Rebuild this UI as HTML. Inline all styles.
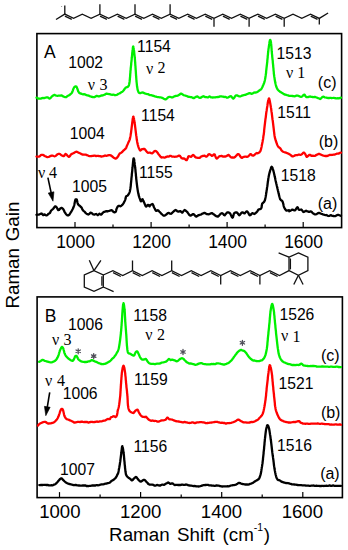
<!DOCTYPE html>
<html><head><meta charset="utf-8"><style>
html,body{margin:0;padding:0;background:#fff;width:348px;height:550px;overflow:hidden;font-family:"Liberation Sans",sans-serif}
svg text{white-space:pre}
</style></head><body>
<svg width="348" height="550" viewBox="0 0 348 550" style="position:absolute;left:0;top:0">
<polyline points="56.0,19.5 64.8,14.1 73.6,18.4 82.3,14.1 91.1,18.4 99.9,14.1 108.7,18.4 117.4,14.1 126.2,18.4 135.0,14.1 143.8,18.4 152.5,14.1 161.3,18.4 170.1,14.1 178.9,18.4 187.7,14.1 196.4,18.4 205.2,14.1 214.0,18.4 222.8,14.1 231.5,18.4 240.3,14.1 249.1,18.4 257.9,14.1 266.6,18.4 275.4,14.1 284.2,18.4 293.0,14.1 301.8,18.4 310.5,14.1 319.3,18.4 328.1,13.0" fill="none" stroke="#111" stroke-width="1.3" stroke-linejoin="miter"/>
<line x1="64.9" y1="16.1" x2="71.8" y2="19.4" stroke="#111" stroke-width="1.3"/>
<line x1="100.0" y1="16.1" x2="106.9" y2="19.4" stroke="#111" stroke-width="1.3"/>
<line x1="117.6" y1="16.1" x2="124.4" y2="19.4" stroke="#111" stroke-width="1.3"/>
<line x1="135.1" y1="16.1" x2="142.0" y2="19.4" stroke="#111" stroke-width="1.3"/>
<line x1="152.7" y1="16.1" x2="159.5" y2="19.4" stroke="#111" stroke-width="1.3"/>
<line x1="170.2" y1="16.1" x2="177.1" y2="19.4" stroke="#111" stroke-width="1.3"/>
<line x1="187.8" y1="16.1" x2="194.6" y2="19.4" stroke="#111" stroke-width="1.3"/>
<line x1="205.3" y1="16.1" x2="212.2" y2="19.4" stroke="#111" stroke-width="1.3"/>
<line x1="222.9" y1="16.1" x2="229.7" y2="19.4" stroke="#111" stroke-width="1.3"/>
<line x1="240.4" y1="16.1" x2="247.3" y2="19.4" stroke="#111" stroke-width="1.3"/>
<line x1="258.0" y1="16.1" x2="264.8" y2="19.4" stroke="#111" stroke-width="1.3"/>
<line x1="275.6" y1="16.1" x2="282.4" y2="19.4" stroke="#111" stroke-width="1.3"/>
<line x1="310.7" y1="16.1" x2="317.5" y2="19.4" stroke="#111" stroke-width="1.3"/>
<line x1="64.8" y1="14.1" x2="64.8" y2="5.4" stroke="#111" stroke-width="1.3"/>
<line x1="99.9" y1="14.1" x2="99.9" y2="4.2" stroke="#111" stroke-width="1.3"/>
<line x1="135.0" y1="14.1" x2="135.0" y2="4.2" stroke="#111" stroke-width="1.3"/>
<line x1="170.1" y1="14.1" x2="170.1" y2="4.2" stroke="#111" stroke-width="1.3"/>
<circle cx="61.6" cy="6.5" r="0.6" fill="#888"/>
<line x1="214.0" y1="18.4" x2="214.0" y2="26.7" stroke="#111" stroke-width="1.3"/>
<line x1="249.1" y1="18.4" x2="249.1" y2="26.7" stroke="#111" stroke-width="1.3"/>
<line x1="284.2" y1="18.4" x2="284.2" y2="26.7" stroke="#111" stroke-width="1.3"/>
<line x1="319.3" y1="18.4" x2="319.3" y2="24.5" stroke="#111" stroke-width="1.3"/>
<polygon points="94.0,270.7 84.3,275.0 84.3,287.0 94.0,291.3 103.3,287.0 103.3,275.0" fill="none" stroke="#111" stroke-width="1.3"/>
<line x1="94" y1="270.7" x2="89.3" y2="260.3" stroke="#111" stroke-width="1.3"/>
<line x1="94" y1="270.7" x2="100.9" y2="260.3" stroke="#111" stroke-width="1.3"/>
<line x1="103.3" y1="287" x2="113.6" y2="291.6" stroke="#111" stroke-width="1.3"/>
<line x1="101.9" y1="276.3" x2="101.9" y2="285.7" stroke="#111" stroke-width="1.3"/>
<polyline points="103.3,275.0 112.9,270.7 122.7,275.5 132.5,270.7 142.3,275.5 152.1,270.7 161.9,275.5 171.7,270.7 181.5,275.5 191.3,270.7 201.1,275.5 210.9,270.7 220.7,275.5 230.5,270.7 240.3,275.5 250.1,270.7 259.9,275.5 269.7,270.7 279.5,275.5 289.0,270.7" fill="none" stroke="#111" stroke-width="1.3"/>
<line x1="113.1" y1="272.7" x2="120.8" y2="276.5" stroke="#111" stroke-width="1.3"/>
<line x1="132.7" y1="272.7" x2="140.4" y2="276.5" stroke="#111" stroke-width="1.3"/>
<line x1="152.3" y1="272.7" x2="160.0" y2="276.5" stroke="#111" stroke-width="1.3"/>
<line x1="171.9" y1="272.7" x2="179.6" y2="276.5" stroke="#111" stroke-width="1.3"/>
<line x1="191.5" y1="272.7" x2="199.2" y2="276.5" stroke="#111" stroke-width="1.3"/>
<line x1="211.1" y1="272.7" x2="218.8" y2="276.5" stroke="#111" stroke-width="1.3"/>
<line x1="230.7" y1="272.7" x2="238.4" y2="276.5" stroke="#111" stroke-width="1.3"/>
<line x1="250.3" y1="272.7" x2="258.0" y2="276.5" stroke="#111" stroke-width="1.3"/>
<line x1="269.9" y1="272.7" x2="277.6" y2="276.5" stroke="#111" stroke-width="1.3"/>
<line x1="132.5" y1="270.7" x2="132.5" y2="260.5" stroke="#111" stroke-width="1.3"/>
<line x1="171.7" y1="270.7" x2="171.7" y2="260.5" stroke="#111" stroke-width="1.3"/>
<line x1="220.7" y1="275.5" x2="220.7" y2="284.5" stroke="#111" stroke-width="1.3"/>
<line x1="259.9" y1="275.5" x2="259.9" y2="284.5" stroke="#111" stroke-width="1.3"/>
<polygon points="298.4,252.9 307.9,257.2 307.9,270.7 298.4,275.3 289.0,270.7 289.0,257.2" fill="none" stroke="#111" stroke-width="1.3"/>
<line x1="290.4" y1="258.5" x2="290.4" y2="269.4" stroke="#111" stroke-width="1.3"/>
<line x1="289" y1="257.2" x2="278.6" y2="252.9" stroke="#111" stroke-width="1.3"/>
<line x1="298.4" y1="275.3" x2="293.8" y2="284.5" stroke="#111" stroke-width="1.3"/>
<line x1="298.4" y1="275.3" x2="303.1" y2="284.5" stroke="#111" stroke-width="1.3"/>
<rect x="36.9" y="33.6" width="304.70" height="194.00" fill="none" stroke="#000" stroke-width="1.6"/>
<line x1="75.0" y1="227.6" x2="75.0" y2="222.1" stroke="#000" stroke-width="1.2"/>
<line x1="151.1" y1="227.6" x2="151.1" y2="222.1" stroke="#000" stroke-width="1.2"/>
<line x1="227.1" y1="227.6" x2="227.1" y2="222.1" stroke="#000" stroke-width="1.2"/>
<line x1="303.2" y1="227.6" x2="303.2" y2="222.1" stroke="#000" stroke-width="1.2"/>
<line x1="113.0" y1="227.6" x2="113.0" y2="224.6" stroke="#000" stroke-width="1.2"/>
<line x1="189.1" y1="227.6" x2="189.1" y2="224.6" stroke="#000" stroke-width="1.2"/>
<line x1="265.1" y1="227.6" x2="265.1" y2="224.6" stroke="#000" stroke-width="1.2"/>
<rect x="37.1" y="296.9" width="305.30" height="200.70" fill="none" stroke="#000" stroke-width="1.6"/>
<line x1="59.5" y1="497.6" x2="59.5" y2="492.1" stroke="#000" stroke-width="1.2"/>
<line x1="140.6" y1="497.6" x2="140.6" y2="492.1" stroke="#000" stroke-width="1.2"/>
<line x1="221.7" y1="497.6" x2="221.7" y2="492.1" stroke="#000" stroke-width="1.2"/>
<line x1="302.8" y1="497.6" x2="302.8" y2="492.1" stroke="#000" stroke-width="1.2"/>
<line x1="100.1" y1="497.6" x2="100.1" y2="494.6" stroke="#000" stroke-width="1.2"/>
<line x1="181.2" y1="497.6" x2="181.2" y2="494.6" stroke="#000" stroke-width="1.2"/>
<line x1="262.2" y1="497.6" x2="262.2" y2="494.6" stroke="#000" stroke-width="1.2"/>
<polyline points="36.5,97.7 37.2,97.8 38.1,98.5 39.2,98.6 40.3,98.6 41.2,98.6 42.1,98.1 43.0,98.0 43.8,98.1 44.6,98.0 45.7,97.7 46.6,97.3 47.5,97.3 48.2,97.7 48.9,98.3 49.6,98.6 50.3,98.2 51.0,97.5 51.8,96.5 52.5,95.9 53.5,95.3 54.5,94.9 55.4,95.3 56.5,95.6 57.6,95.8 58.5,95.7 59.4,95.7 60.4,95.7 61.4,95.4 62.3,95.8 63.3,96.5 64.3,96.8 65.2,97.2 66.2,97.2 66.9,96.5 67.6,96.1 68.3,95.5 69.0,95.3 69.8,94.8 70.5,94.2 71.3,93.5 71.9,92.8 72.3,92.0 72.6,91.1 72.9,90.3 73.1,89.6 73.4,88.8 73.8,88.0 74.1,87.3 75.3,86.3 76.5,86.7 76.9,87.5 77.2,88.5 77.6,89.4 77.9,90.3 78.2,91.3 78.8,92.2 79.4,93.0 80.3,93.5 81.2,93.6 82.0,94.0 82.7,94.3 84.0,94.2 84.7,94.4 85.6,94.7 86.5,95.1 87.4,95.4 88.3,95.5 89.2,95.8 90.0,96.3 90.9,96.5 91.8,96.9 92.7,97.0 93.5,97.2 94.3,97.2 95.1,96.7 95.9,96.2 96.6,95.9 97.7,96.2 98.9,96.5 99.8,96.2 100.8,95.7 101.8,95.5 102.8,95.3 103.7,95.0 104.7,94.7 105.7,94.1 106.6,93.6 107.6,93.8 108.5,94.0 109.4,94.1 110.4,94.4 111.2,94.7 112.1,94.8 113.0,94.6 113.9,94.7 114.8,95.2 115.6,95.1 116.5,94.9 117.3,94.7 118.3,93.8 119.3,93.5 120.2,93.1 120.9,92.6 121.7,92.1 122.4,91.7 123.1,91.0 123.7,90.3 124.3,89.5 124.8,88.7 125.4,88.0 125.8,87.5 127.0,87.1 127.9,86.8 128.8,85.6 129.0,85.0 129.1,84.3 129.3,83.6 129.4,82.7 129.6,81.7 129.7,80.7 129.8,79.6 129.9,78.9 129.9,78.2 130.0,77.5 130.1,76.8 130.1,76.0 130.2,75.2 130.2,74.4 130.3,73.5 130.4,72.7 130.4,71.8 130.5,70.9 130.6,70.0 130.7,69.3 130.7,68.5 130.8,67.7 130.9,66.9 131.0,66.0 131.1,65.2 131.2,64.3 131.2,63.5 131.3,62.6 131.4,61.8 131.5,61.0 131.6,60.2 131.7,59.4 131.7,58.7 131.8,58.0 131.9,57.0 132.0,56.1 132.1,55.2 132.2,54.3 132.2,53.5 132.3,52.7 132.4,51.9 132.5,51.2 132.5,50.6 132.6,50.0 132.8,48.6 132.9,47.5 133.0,46.8 133.2,46.5 133.4,46.8 133.5,47.5 133.7,48.6 133.9,50.0 134.0,50.6 134.1,51.2 134.2,51.9 134.2,52.7 134.3,53.5 134.4,54.3 134.5,55.2 134.6,56.1 134.7,57.0 134.8,58.0 134.9,58.7 134.9,59.4 135.0,60.1 135.0,60.9 135.1,61.7 135.2,62.5 135.2,63.3 135.3,64.2 135.3,65.0 135.4,65.9 135.5,66.7 135.5,67.5 135.6,68.4 135.6,69.2 135.7,70.0 135.8,70.8 135.8,71.6 135.9,72.5 135.9,73.3 136.0,74.1 136.0,75.0 136.1,75.8 136.2,76.6 136.2,77.5 136.3,78.3 136.3,79.1 136.4,79.8 136.5,80.6 136.5,81.3 136.6,82.0 136.7,83.0 136.8,84.0 136.9,85.0 137.0,85.9 137.1,86.8 137.3,87.6 137.4,88.4 137.5,89.2 137.7,89.8 137.8,90.4 138.3,91.7 138.8,92.6 139.6,93.0 140.4,93.1 141.4,92.7 142.3,92.5 143.2,92.6 144.0,93.0 144.8,93.5 145.6,93.7 146.4,93.9 147.3,94.1 148.3,94.2 149.2,94.8 150.2,95.1 151.2,95.2 152.1,95.5 152.8,95.6 153.4,95.9 154.0,96.0 154.9,96.4 155.9,96.6 156.9,96.9 157.8,97.1 158.7,97.2 159.6,97.4 160.4,97.3 161.3,97.5 162.1,97.8 163.0,98.2 163.8,98.7 164.7,99.1 165.5,99.4 166.2,99.1 166.9,98.6 167.6,97.8 168.3,97.3 169.0,96.9 169.9,96.8 170.7,97.0 171.5,97.3 172.4,97.4 173.3,96.9 174.2,96.5 175.1,96.1 175.9,95.8 176.8,95.9 177.6,95.7 178.4,95.3 179.3,94.8 180.1,94.1 181.0,93.6 181.8,93.9 182.7,94.5 183.6,95.1 184.4,95.3 185.3,95.5 186.2,95.9 187.1,96.1 188.0,96.7 188.8,96.9 189.6,96.9 190.5,97.1 191.4,97.2 192.2,97.5 193.1,98.0 194.0,98.1 194.9,97.4 195.8,96.9 196.6,96.6 197.4,96.4 198.3,97.1 199.1,97.7 200.0,97.9 200.8,97.7 201.8,97.1 202.7,96.6 203.4,96.2 204.2,96.6 205.0,97.1 205.7,97.2 206.5,97.1 207.4,97.3 208.4,97.3 209.2,96.5 210.1,96.6 211.0,97.3 211.9,97.4 212.8,97.5 213.7,97.4 214.5,97.4 215.4,97.4 216.2,97.2 217.1,97.1 218.0,97.0 218.9,96.9 219.7,96.5 220.6,96.4 221.4,96.4 222.3,96.6 223.2,96.7 224.0,97.0 224.8,96.9 225.7,96.9 226.6,97.6 227.5,97.6 228.3,97.3 229.2,96.9 230.1,96.3 230.9,96.2 231.5,96.7 232.2,97.6 232.8,98.4 233.4,98.6 233.9,98.2 234.4,97.5 234.9,96.7 235.4,95.9 236.0,95.4 236.8,95.4 237.7,95.7 238.6,96.1 239.5,96.4 240.4,96.3 241.2,96.0 242.0,95.6 242.9,95.3 243.8,95.1 244.7,94.9 245.6,94.8 246.4,94.4 247.3,94.0 248.2,93.6 249.0,93.2 249.9,93.2 250.7,93.5 251.6,93.9 252.4,93.5 253.3,93.1 254.1,92.6 255.0,92.5 255.8,92.5 256.7,92.3 257.6,91.8 258.5,91.1 259.3,90.5 260.2,89.8 261.0,89.4 261.4,88.8 261.9,88.0 262.4,87.0 262.8,86.0 263.2,85.2 263.5,84.4 263.9,83.6 264.2,82.7 264.5,81.7 264.7,81.0 264.8,80.4 265.0,79.7 265.1,79.0 265.3,78.1 265.4,77.2 265.6,76.0 265.7,75.4 265.8,74.7 265.9,74.0 266.0,73.3 266.1,72.5 266.1,71.7 266.2,70.8 266.3,70.0 266.4,69.1 266.5,68.2 266.6,67.4 266.7,66.5 266.8,65.6 266.9,64.8 267.0,64.0 267.1,63.2 267.2,62.4 267.3,61.5 267.3,60.7 267.4,59.9 267.5,59.0 267.6,58.2 267.7,57.4 267.7,56.5 267.8,55.7 267.9,54.9 268.0,54.2 268.0,53.4 268.1,52.7 268.2,52.0 268.3,51.0 268.4,50.0 268.5,49.0 268.7,48.1 268.8,47.2 268.9,46.4 269.0,45.6 269.1,44.8 269.2,44.1 269.3,43.5 269.5,42.1 269.8,40.9 270.0,40.1 270.2,39.9 270.4,40.2 270.7,40.9 270.9,42.1 271.1,43.5 271.2,44.1 271.2,44.8 271.3,45.6 271.4,46.4 271.4,47.2 271.5,48.1 271.6,49.0 271.6,50.0 271.7,51.0 271.8,52.0 271.9,52.7 271.9,53.4 272.0,54.2 272.1,54.9 272.2,55.7 272.2,56.5 272.3,57.4 272.4,58.2 272.5,59.0 272.6,59.9 272.7,60.7 272.8,61.5 272.8,62.4 272.9,63.2 273.0,64.0 273.1,64.8 273.2,65.6 273.2,66.4 273.3,67.3 273.4,68.1 273.5,68.9 273.5,69.7 273.6,70.6 273.7,71.4 273.8,72.2 273.8,73.0 273.9,73.8 274.0,74.5 274.1,75.3 274.2,76.0 274.3,76.9 274.5,77.8 274.6,78.7 274.7,79.6 274.9,80.4 275.0,81.3 275.2,82.1 275.3,82.8 275.5,83.6 275.7,84.3 275.8,85.0 276.0,85.6 276.3,86.7 276.7,87.6 277.0,88.4 277.4,89.0 277.8,89.7 278.4,90.3 279.0,90.8 279.7,91.4 280.5,91.9 281.3,92.5 282.2,93.0 282.9,93.4 283.6,94.0 284.6,94.5 285.5,94.6 286.3,94.9 287.1,95.1 288.0,95.3 288.9,95.8 289.8,95.9 290.7,95.8 291.6,95.9 292.5,96.0 293.4,96.1 294.3,96.3 295.2,96.2 296.1,95.7 296.9,95.5 297.8,95.7 298.7,96.0 299.6,96.4 300.6,96.8 301.4,96.8 302.1,96.4 302.8,95.8 303.5,95.0 304.1,94.6 304.7,94.9 305.3,96.0 306.0,96.7 306.7,97.2 307.5,97.1 308.4,97.0 309.4,96.6 310.3,96.5 311.2,96.8 312.1,96.8 312.9,97.1 313.8,97.2 314.7,96.9 315.6,97.2 316.6,97.5 317.4,97.8 318.4,98.2 319.2,98.5 320.1,99.0 320.8,98.6 321.4,98.0 322.1,97.2 322.8,96.8 323.6,96.7 324.5,97.3 325.4,97.5 326.3,97.7 327.2,97.9 328.1,98.0 329.0,98.1 329.9,97.9 330.8,97.8 331.6,98.2 332.5,98.0 333.4,97.8 334.3,98.0 335.2,98.1 336.1,98.4 337.0,98.3 337.8,98.2 338.8,98.4 339.7,98.2 340.4,97.8 341.0,97.7" fill="none" stroke="#00f000" stroke-width="2.3" stroke-linejoin="round" stroke-linecap="round"/>
<polyline points="36.5,156.6 37.5,156.6 38.9,156.6 39.8,156.2 40.7,155.2 41.7,154.9 42.7,154.9 43.6,155.2 44.6,156.0 45.6,156.4 46.5,156.8 47.5,157.1 48.5,156.9 49.5,156.6 50.4,156.1 51.5,155.6 52.5,155.6 53.6,156.0 54.7,156.3 55.4,155.9 56.2,155.4 56.9,154.8 57.6,154.3 58.7,153.8 59.7,153.8 60.4,154.4 61.2,155.0 61.9,155.5 63.0,156.0 64.0,156.1 64.5,155.5 65.0,154.5 65.5,153.9 66.2,154.2 66.9,155.0 67.5,155.7 68.3,156.5 69.0,156.9 69.7,156.4 70.4,155.3 71.2,154.3 71.9,153.9 72.7,153.5 73.4,153.2 74.1,152.9 75.2,152.1 76.2,151.7 76.9,151.8 77.7,152.2 78.4,152.6 79.4,153.0 80.5,153.5 81.4,154.1 82.4,154.5 83.4,154.7 84.2,154.7 85.2,154.7 86.1,154.7 86.9,155.2 87.9,155.5 88.7,155.8 89.7,156.1 90.5,156.2 91.4,156.2 92.3,155.9 93.2,155.9 94.1,155.7 94.9,155.7 95.7,156.0 96.6,156.0 97.5,155.8 98.3,155.8 99.2,156.1 100.1,156.1 101.0,156.5 101.8,156.5 102.6,156.3 103.5,156.2 104.4,155.7 105.3,155.5 106.2,155.8 107.0,155.6 108.0,155.3 109.0,155.1 109.9,155.1 110.6,155.3 111.3,155.8 112.0,156.3 112.7,156.8 113.4,157.4 114.2,157.9 114.9,158.4 115.6,158.6 116.5,158.2 117.3,157.4 118.0,156.5 118.5,155.6 118.9,154.8 119.4,154.0 119.8,153.4 120.7,153.0 121.6,152.5 122.2,151.9 122.8,151.2 123.4,150.6 124.2,150.1 125.1,149.1 125.8,148.4 126.2,147.9 126.4,147.2 126.7,146.4 127.0,145.6 127.4,144.8 127.8,143.9 128.2,142.9 128.6,142.0 129.0,141.2 129.3,140.5 129.7,139.6 130.0,138.4 130.1,137.8 130.3,137.0 130.4,136.3 130.6,135.4 130.7,134.6 130.8,133.7 131.0,132.9 131.1,132.0 131.2,131.2 131.3,130.4 131.4,129.6 131.5,128.8 131.6,128.0 131.7,127.2 131.8,126.4 131.9,125.6 132.0,124.8 132.1,124.0 132.2,123.1 132.3,122.1 132.5,121.0 132.6,119.9 132.7,118.9 132.9,118.0 133.0,117.3 133.2,116.8 133.3,116.6 133.5,116.8 133.6,117.2 133.8,117.9 134.0,118.8 134.1,119.7 134.3,120.8 134.5,121.9 134.6,123.0 134.8,124.0 134.9,124.7 135.0,125.5 135.1,126.3 135.2,127.1 135.3,127.9 135.4,128.7 135.5,129.6 135.6,130.4 135.7,131.2 135.8,132.0 135.9,132.8 136.0,133.6 136.1,134.5 136.2,135.4 136.4,136.3 136.5,137.2 136.6,138.1 136.7,139.0 136.8,139.8 137.0,140.6 137.1,141.3 137.2,142.0 137.4,143.0 137.6,143.9 137.8,144.7 138.0,145.4 138.2,146.1 138.4,146.8 138.7,147.7 139.1,148.6 139.5,149.4 139.8,150.1 140.2,150.6 141.1,150.0 142.0,149.1 142.8,149.1 143.6,148.8 144.4,148.9 145.0,149.4 145.6,150.2 146.2,151.0 146.8,151.7 147.4,152.4 148.0,152.8 149.0,152.7 150.0,152.7 151.1,153.1 152.2,153.3 152.9,152.8 153.6,152.1 154.3,151.3 155.0,150.9 155.8,151.1 156.5,151.5 157.2,152.3 157.7,152.9 158.2,153.7 158.8,154.5 159.3,155.1 160.0,156.1 160.7,156.9 161.5,157.5 162.4,157.3 163.4,157.3 164.4,157.7 165.3,157.5 166.3,156.8 167.2,156.5 168.2,156.7 169.1,156.4 170.1,155.9 171.0,155.9 172.0,156.6 173.0,156.7 173.9,156.7 174.8,156.8 175.7,156.7 176.6,156.7 177.6,156.3 178.6,155.7 179.5,155.6 180.1,156.0 180.5,156.7 181.0,157.5 181.6,158.1 182.5,158.5 183.6,158.4 184.5,158.7 185.3,159.3 185.9,160.1 186.6,160.1 187.0,159.9 187.3,159.1 187.7,158.2 188.1,157.3 188.4,156.5 188.8,156.2 189.9,156.5 191.0,156.8 191.7,156.3 192.3,155.6 193.1,154.9 193.7,155.3 194.4,156.0 195.2,157.1 196.0,157.6 196.8,157.7 197.7,157.8 198.6,157.9 199.4,157.8 200.0,157.7 200.8,156.7 201.6,156.3 202.5,156.0 203.5,155.8 204.4,155.6 205.4,156.2 206.3,156.7 207.0,156.3 207.7,155.5 208.3,154.6 209.0,154.2 209.9,154.4 210.9,155.0 211.8,155.8 212.8,155.6 213.7,154.5 214.6,154.4 215.0,155.1 215.3,156.1 215.7,157.1 216.0,157.9 216.4,158.4 217.0,158.6 217.6,157.9 218.3,157.3 219.1,156.4 220.0,156.2 220.9,156.0 221.9,156.0 222.8,156.5 223.8,156.6 224.7,156.5 225.6,156.5 226.5,156.2 227.4,155.5 228.3,154.8 229.0,155.2 229.7,156.0 230.4,156.9 231.1,157.4 232.0,157.5 233.0,157.5 233.9,157.6 234.6,157.3 235.3,156.8 236.0,155.9 236.6,155.4 237.3,154.6 237.8,154.1 238.5,154.1 239.0,154.5 239.5,155.0 240.0,156.0 240.6,156.8 241.2,157.6 242.1,157.8 243.0,157.1 244.0,156.8 244.9,156.7 245.9,156.6 246.9,156.9 247.8,156.7 248.6,156.0 249.3,155.4 249.8,154.6 250.4,154.1 251.3,154.4 252.2,155.4 253.2,155.7 253.9,155.3 254.5,154.8 255.2,154.2 255.9,153.5 256.9,153.0 257.8,153.3 258.7,152.8 259.6,152.2 260.5,150.9 260.6,150.5 260.8,149.9 261.0,149.3 261.1,148.6 261.3,147.9 261.5,147.1 261.7,146.2 261.8,145.3 262.0,144.4 262.2,143.5 262.4,142.6 262.6,141.7 262.7,140.7 262.9,139.8 263.1,138.9 263.2,138.0 263.3,137.2 263.4,136.4 263.5,135.6 263.7,134.8 263.8,134.0 263.9,133.1 264.0,132.3 264.1,131.5 264.1,130.6 264.2,129.8 264.3,128.9 264.4,128.1 264.5,127.2 264.6,126.4 264.7,125.5 264.8,124.7 264.9,123.8 265.0,123.0 265.1,122.2 265.2,121.3 265.3,120.4 265.4,119.6 265.5,118.7 265.7,117.8 265.8,116.9 265.9,116.0 266.0,115.1 266.1,114.3 266.2,113.4 266.3,112.6 266.4,111.8 266.6,111.0 266.7,110.2 266.8,109.4 266.9,108.7 267.0,108.0 267.2,106.9 267.4,105.7 267.5,104.6 267.7,103.5 267.9,102.5 268.0,101.5 268.2,100.6 268.4,99.9 268.6,99.3 268.7,98.9 268.9,98.5 269.1,98.5 269.3,99.0 269.5,99.7 269.7,100.6 269.9,101.5 270.1,102.6 270.3,103.8 270.5,104.9 270.7,106.0 270.8,106.7 270.9,107.5 271.1,108.2 271.2,109.1 271.3,109.9 271.4,110.8 271.5,111.7 271.7,112.6 271.8,113.4 271.9,114.3 272.0,115.2 272.1,116.0 272.2,116.8 272.3,117.6 272.4,118.5 272.5,119.4 272.7,120.3 272.8,121.2 272.9,122.0 273.0,122.9 273.1,123.7 273.2,124.5 273.3,125.3 273.4,126.2 273.5,127.0 273.6,127.8 273.7,128.7 273.8,129.6 273.9,130.4 274.0,131.3 274.1,132.1 274.2,133.0 274.3,133.8 274.4,134.6 274.5,135.3 274.6,136.0 274.8,137.0 275.0,138.0 275.2,138.9 275.5,139.7 275.7,140.5 276.0,141.3 276.2,142.0 276.6,143.0 276.9,144.0 277.3,144.9 277.7,145.7 278.1,146.4 278.7,147.2 279.4,147.6 280.0,148.1 280.6,148.8 281.1,149.8 281.7,150.6 282.4,151.2 283.2,151.7 283.9,152.0 284.9,152.3 286.0,152.7 286.8,153.0 287.7,153.4 288.6,153.7 289.4,154.2 290.1,154.6 290.8,155.3 291.5,155.8 292.2,156.3 292.9,156.4 294.0,156.0 295.1,155.3 296.1,155.1 297.2,155.2 298.3,154.7 299.4,154.6 300.5,154.9 301.6,154.5 302.3,153.9 303.0,153.0 303.7,152.6 304.3,152.9 304.9,153.6 305.4,154.3 305.8,155.2 306.3,156.3 306.7,156.9 307.5,156.5 308.4,155.6 309.2,155.0 310.3,154.8 311.1,155.6 311.9,155.9 312.9,155.7 313.8,155.8 314.7,155.9 315.6,155.4 316.6,154.9 317.4,154.5 318.4,154.0 319.2,153.9 320.1,154.3 321.0,154.7 321.8,155.0 322.8,155.5 323.6,155.7 324.5,155.9 325.4,156.0 326.3,156.0 327.2,156.0 328.1,155.6 329.0,155.2 329.9,154.8 330.8,155.0 331.6,154.9 332.5,154.8 333.4,154.6 334.3,154.7 335.2,154.3 336.1,154.0 337.0,153.7 337.8,153.6 338.8,153.5 339.7,152.8 340.4,152.7 341.0,152.6" fill="none" stroke="#ff0000" stroke-width="2.3" stroke-linejoin="round" stroke-linecap="round"/>
<polyline points="36.5,214.8 37.3,214.6 38.5,214.6 39.6,214.3 40.8,213.7 41.7,213.5 42.5,214.4 43.2,215.1 44.6,214.4 45.3,214.8 46.1,215.4 46.8,215.4 47.5,214.9 48.2,214.1 49.6,213.3 50.0,212.9 50.4,212.1 50.7,211.3 51.1,210.6 51.8,210.0 52.5,209.4 53.2,208.7 54.0,207.7 54.7,206.8 55.4,206.3 56.1,206.7 56.8,207.7 57.3,208.5 57.8,209.6 58.3,210.2 59.0,210.0 59.7,209.0 60.4,208.5 61.2,208.0 61.9,208.0 62.6,208.4 63.3,209.3 63.6,209.8 64.0,210.6 64.3,211.4 64.7,212.1 65.2,212.9 65.7,213.7 66.2,214.4 66.9,215.0 67.6,215.4 68.3,215.4 68.8,215.1 69.4,214.6 70.0,213.7 70.5,212.8 70.9,212.2 71.4,211.5 71.8,210.8 72.2,210.0 72.6,209.3 73.0,208.4 73.4,207.6 73.7,206.7 74.1,205.6 74.3,204.8 74.5,203.8 74.7,202.8 74.9,201.8 75.1,200.8 75.3,200.0 75.5,199.4 76.7,199.5 76.9,200.0 77.1,200.8 77.3,201.8 77.5,202.7 77.7,203.5 78.1,204.4 78.6,204.9 79.1,205.4 79.8,205.8 80.6,206.7 81.3,207.2 81.7,207.8 82.0,208.5 82.3,209.3 82.7,210.0 83.4,210.8 84.2,211.4 84.9,212.0 85.7,213.1 86.5,213.7 87.4,214.1 88.3,214.5 89.2,214.0 90.1,213.1 90.9,212.6 91.8,213.2 92.6,213.9 93.4,214.5 94.3,214.7 95.2,214.2 96.1,214.0 97.0,214.6 97.8,215.2 98.7,214.3 99.5,213.7 100.3,214.3 101.2,214.6 101.8,214.1 102.4,213.2 103.0,212.6 103.9,211.9 104.7,211.8 105.6,211.4 106.4,211.2 107.2,211.5 108.1,211.2 109.0,211.0 109.9,210.7 110.8,210.3 111.6,210.1 112.4,210.7 113.3,211.8 114.5,212.4 115.6,212.0 115.9,211.5 116.1,210.7 116.3,209.7 116.6,208.8 117.0,207.9 117.4,207.1 117.9,206.3 118.4,205.9 119.3,205.8 120.2,206.3 121.1,206.0 122.0,205.2 122.6,204.5 123.2,203.7 123.8,202.8 124.2,201.9 124.7,201.0 125.1,200.1 125.4,199.2 125.7,198.1 125.9,197.0 126.2,196.2 127.4,195.7 128.0,195.1 128.6,194.3 129.2,193.2 129.4,192.6 129.7,191.9 129.9,191.2 130.0,190.4 130.2,189.4 130.4,188.4 130.5,187.7 130.6,187.0 130.7,186.3 130.8,185.5 130.8,184.7 130.9,183.8 131.0,182.9 131.1,182.0 131.2,181.0 131.3,180.0 131.4,179.3 131.4,178.6 131.5,177.8 131.6,177.0 131.7,176.2 131.8,175.4 131.8,174.5 131.9,173.7 132.0,172.8 132.1,172.0 132.2,171.1 132.3,170.3 132.3,169.5 132.4,168.7 132.5,168.0 132.6,167.0 132.7,166.0 132.8,164.9 132.9,163.8 133.0,162.8 133.1,161.7 133.2,160.8 133.3,159.9 133.4,159.2 133.5,158.7 133.6,158.3 133.7,158.3 133.8,158.4 133.9,158.7 134.1,159.2 134.2,159.9 134.3,160.8 134.4,161.7 134.6,162.8 134.7,163.8 134.8,164.9 135.0,166.0 135.1,167.0 135.2,168.0 135.3,168.7 135.4,169.5 135.5,170.3 135.5,171.1 135.6,171.9 135.7,172.8 135.8,173.6 135.9,174.4 135.9,175.3 136.0,176.1 136.1,176.9 136.2,177.7 136.2,178.5 136.3,179.3 136.4,180.0 136.5,180.9 136.6,181.8 136.7,182.7 136.8,183.5 136.9,184.4 137.0,185.2 137.1,186.0 137.2,186.8 137.3,187.5 137.4,188.2 137.5,188.9 137.6,189.6 137.8,190.7 137.9,191.6 138.1,192.5 138.3,193.4 138.5,194.2 138.6,194.9 138.8,195.6 139.1,196.7 139.4,197.6 139.7,198.4 140.0,199.2 140.4,200.3 140.8,201.2 141.2,201.4 141.6,200.9 142.0,199.7 142.4,199.1 142.7,199.4 143.1,200.3 143.5,201.1 143.8,202.0 144.2,202.8 144.6,203.6 144.9,204.5 145.3,205.4 145.6,206.1 146.0,206.6 146.6,206.3 147.2,205.3 147.8,204.8 148.4,205.1 149.1,205.9 149.6,206.4 150.2,205.0 150.9,204.7 151.7,204.3 152.5,204.0 152.9,204.5 153.3,205.4 153.6,206.3 154.0,207.2 154.4,208.0 154.9,208.9 155.3,209.8 155.8,210.5 156.2,210.9 156.9,210.7 157.7,210.2 158.4,210.6 159.2,211.5 160.0,212.3 160.7,213.0 161.5,213.9 162.2,214.5 163.3,215.5 164.4,215.7 165.2,215.3 165.9,214.7 166.7,214.2 167.8,213.2 168.9,212.9 170.1,213.7 171.2,213.8 171.9,213.1 172.7,212.3 173.4,211.7 174.2,210.9 174.9,210.3 175.7,210.0 176.4,210.4 177.2,211.2 177.9,211.6 179.0,211.5 180.1,211.1 180.9,211.6 181.6,212.3 182.4,212.6 183.1,211.6 183.9,210.6 184.6,210.0 185.4,210.5 186.1,211.0 186.9,211.8 187.5,212.2 188.0,213.1 188.6,213.9 189.1,214.8 190.2,215.5 191.3,215.3 192.1,214.8 192.8,214.1 193.6,214.2 194.3,214.7 195.1,215.7 195.8,216.4 196.5,216.6 197.3,216.1 198.1,215.4 198.8,215.1 199.7,214.8 200.5,214.7 201.4,214.4 202.3,213.7 203.1,213.4 204.0,213.0 204.9,212.9 205.8,213.5 206.6,214.0 207.4,214.1 208.3,214.3 209.2,214.2 210.1,213.7 211.0,213.3 211.8,213.1 212.7,213.6 213.6,214.3 214.4,214.8 215.3,215.5 216.1,216.1 217.0,216.4 217.9,216.7 218.7,215.9 219.6,214.9 220.2,214.3 220.8,213.6 221.5,213.4 222.1,213.2 222.7,213.5 223.4,214.2 224.0,214.9 224.7,215.3 225.3,214.5 226.0,213.7 226.7,212.9 227.3,212.4 228.2,212.3 229.0,212.6 229.9,213.2 230.3,213.8 230.8,214.8 231.3,215.7 231.7,216.7 232.1,217.4 232.5,217.7 232.9,217.3 233.2,216.3 233.5,215.1 233.8,214.0 234.2,213.2 235.0,212.6 235.9,212.4 236.8,212.5 237.5,213.0 238.1,214.0 238.8,214.8 239.4,215.3 240.1,214.6 240.7,213.8 241.3,212.9 242.0,212.4 242.9,212.5 243.7,213.1 244.6,213.4 245.4,212.5 246.3,211.7 247.1,211.4 247.6,211.8 248.1,212.7 248.7,213.7 249.2,214.7 249.7,215.3 250.6,215.0 251.5,213.8 252.3,213.2 253.4,213.6 254.5,214.0 255.3,213.3 256.0,212.8 256.7,212.1 257.3,211.4 257.9,210.4 258.4,209.6 259.2,209.3 260.0,209.2 260.8,208.8 261.4,207.8 261.6,207.3 261.7,206.3 261.9,205.3 262.0,204.3 262.2,203.6 263.3,202.6 263.8,202.2 264.3,201.6 264.9,200.3 265.0,199.7 265.2,199.1 265.3,198.4 265.5,197.6 265.7,196.7 265.8,195.8 266.0,195.0 266.1,194.1 266.2,193.2 266.4,192.4 266.5,191.6 266.6,190.7 266.8,189.8 266.9,189.0 267.0,188.1 267.1,187.3 267.3,186.5 267.4,185.7 267.5,184.8 267.6,184.0 267.7,183.2 267.8,182.3 267.9,181.4 268.1,180.6 268.2,179.7 268.3,178.9 268.4,178.0 268.6,177.2 268.7,176.4 268.9,175.5 269.1,174.6 269.3,173.7 269.5,172.8 269.8,172.0 270.0,171.2 270.2,170.4 270.4,169.8 270.8,168.7 271.1,167.7 271.4,167.0 271.7,166.8 272.0,167.1 272.4,167.7 272.7,168.7 273.1,169.8 273.3,170.4 273.5,171.2 273.7,172.0 273.9,172.8 274.1,173.7 274.3,174.6 274.5,175.5 274.7,176.4 274.9,177.2 275.1,178.0 275.3,178.9 275.4,179.7 275.6,180.6 275.8,181.4 276.0,182.3 276.2,183.2 276.4,184.0 276.6,184.8 276.8,185.7 277.0,186.5 277.2,187.4 277.4,188.2 277.6,189.1 277.8,189.9 278.0,190.8 278.2,191.6 278.4,192.5 278.6,193.4 278.9,194.4 279.1,195.4 279.3,196.3 279.6,197.2 279.8,198.0 280.0,198.7 280.2,199.3 281.1,200.3 281.8,200.6 282.4,201.3 282.9,202.5 283.1,203.2 283.3,204.1 283.5,205.1 283.7,206.1 284.0,206.9 284.5,208.0 285.0,209.0 285.6,209.8 286.4,210.6 287.3,210.5 288.2,210.3 289.0,210.2 289.2,211.3 289.8,211.0 290.7,210.6 291.6,210.1 292.4,209.6 293.3,209.8 294.1,210.4 294.9,210.4 295.4,210.0 295.9,209.2 296.4,208.3 296.9,207.6 297.3,207.2 297.9,207.7 298.3,208.9 298.9,209.7 299.6,209.9 300.5,209.7 301.3,209.5 301.9,210.1 302.5,210.9 303.1,211.7 303.7,212.0 304.5,211.7 305.3,211.1 306.1,210.7 306.9,211.1 307.7,211.4 308.5,211.8 309.3,211.9 310.2,211.5 311.0,211.5 311.6,211.8 312.2,212.5 312.8,213.1 313.4,213.6 314.2,214.1 315.0,214.3 315.8,214.3 316.6,214.2 317.4,213.5 318.2,213.1 319.0,212.8 319.8,213.2 320.6,213.5 321.4,213.8 322.1,214.0 323.0,214.5 323.8,214.7 324.7,215.0 325.5,215.2 326.3,215.0 327.2,215.4 327.9,215.8 328.7,216.0 329.5,215.8 330.2,215.4 331.1,215.2 331.8,215.7 332.6,215.9 333.5,216.0 334.3,216.1 335.1,216.2 335.9,215.8 336.7,215.4 337.5,214.8 338.4,214.9 339.4,215.3 340.4,215.7 341.0,215.9" fill="none" stroke="#000" stroke-width="2.3" stroke-linejoin="round" stroke-linecap="round"/>
<polyline points="39.2,361.8 39.8,361.4 40.7,360.9 41.7,360.3 42.5,359.9 43.6,360.2 44.6,360.8 45.5,361.0 46.5,361.3 47.5,361.6 48.5,361.9 49.4,362.2 50.4,362.3 51.3,362.4 52.3,362.1 53.2,361.7 53.9,361.4 54.7,361.0 55.4,360.5 56.1,359.9 56.6,359.2 57.0,358.4 57.5,357.6 57.9,356.7 58.3,355.8 58.6,355.1 58.8,354.2 59.1,353.3 59.3,352.5 59.6,351.6 59.8,350.8 60.1,350.1 60.6,349.0 61.0,348.1 61.5,347.3 61.9,346.9 62.6,347.2 63.3,348.6 63.5,349.3 63.7,350.1 64.0,351.0 64.2,351.9 64.4,352.8 64.7,353.6 65.1,354.4 65.5,355.2 65.9,355.9 66.4,356.5 66.9,357.1 67.6,357.8 68.3,358.6 69.1,359.1 69.8,359.6 70.8,360.2 71.8,360.7 72.6,360.9 73.2,360.5 73.7,359.6 74.1,358.7 74.5,358.0 74.8,357.1 75.2,356.3 75.5,355.9 76.7,356.0 77.1,356.7 77.4,357.6 77.9,358.6 78.4,359.4 79.0,359.9 79.8,360.5 80.6,361.0 81.3,361.4 82.2,361.7 83.2,361.8 84.1,362.0 85.1,362.0 86.1,362.0 87.1,361.9 88.0,361.4 88.9,361.3 89.7,361.3 90.5,360.9 91.2,360.4 91.8,360.1 93.3,360.6 93.9,360.9 94.6,361.3 95.4,361.7 96.2,361.9 97.1,362.3 98.0,362.8 98.8,363.2 99.6,363.4 100.5,363.6 101.5,364.1 102.5,364.1 103.6,364.0 104.4,363.9 105.2,363.8 106.0,363.4 106.8,363.1 107.6,362.6 108.5,362.0 109.3,361.7 110.0,361.1 110.7,360.5 111.2,359.9 111.8,359.2 112.4,358.7 113.0,358.2 113.6,357.6 114.2,356.9 114.7,356.2 115.2,355.5 115.7,354.8 116.2,354.0 116.6,353.2 117.0,352.5 117.4,351.9 117.8,351.2 118.1,350.5 118.4,349.6 118.6,348.9 118.8,348.2 119.0,347.4 119.1,346.5 119.3,345.6 119.4,344.7 119.6,343.6 119.7,342.9 119.8,342.2 119.9,341.5 120.0,340.8 120.1,340.0 120.2,339.2 120.3,338.4 120.4,337.5 120.5,336.7 120.6,335.8 120.7,334.9 120.8,334.0 120.9,333.3 120.9,332.5 121.0,331.8 121.1,331.0 121.2,330.2 121.2,329.4 121.3,328.6 121.4,327.7 121.4,326.9 121.5,326.1 121.6,325.3 121.6,324.4 121.7,323.6 121.7,322.8 121.8,322.0 121.9,321.2 121.9,320.4 122.0,319.5 122.0,318.7 122.1,317.8 122.1,316.9 122.2,316.1 122.2,315.2 122.3,314.4 122.3,313.6 122.4,312.8 122.4,312.1 122.5,311.3 122.5,310.6 122.6,310.0 122.7,308.8 122.8,307.6 122.9,306.5 123.0,305.5 123.1,304.6 123.3,303.9 123.4,303.5 123.5,303.2 123.6,303.4 123.8,303.9 123.9,304.6 124.1,305.5 124.2,306.5 124.3,307.6 124.5,308.8 124.6,310.0 124.7,310.6 124.7,311.3 124.8,312.1 124.8,312.8 124.9,313.6 124.9,314.4 124.9,315.2 125.0,316.1 125.0,316.9 125.1,317.8 125.1,318.7 125.2,319.5 125.2,320.4 125.2,321.2 125.3,322.0 125.4,322.8 125.4,323.6 125.5,324.4 125.5,325.2 125.6,326.0 125.7,326.8 125.7,327.6 125.8,328.4 125.8,329.2 125.9,330.0 126.0,330.8 126.0,331.6 126.1,332.4 126.1,333.2 126.2,334.0 126.3,334.8 126.3,335.6 126.4,336.5 126.4,337.3 126.5,338.2 126.5,339.1 126.6,339.9 126.6,340.8 126.7,341.6 126.7,342.4 126.8,343.2 126.8,343.9 126.9,344.7 126.9,345.4 127.0,346.0 127.1,347.1 127.2,348.2 127.3,349.1 127.4,350.0 127.6,350.8 127.7,351.5 127.8,352.1 128.0,352.6 128.8,353.4 129.8,353.6 130.6,354.0 131.4,354.5 132.2,355.1 133.1,355.6 134.0,355.5 134.4,355.1 134.7,354.3 135.1,353.4 135.5,352.6 135.8,352.0 136.6,351.3 137.3,351.4 137.7,351.9 138.0,352.6 138.4,353.5 138.8,354.4 139.1,355.1 139.5,355.9 139.8,356.7 140.2,357.4 140.6,358.0 141.4,359.0 142.2,359.6 143.0,359.7 144.1,359.5 145.0,359.2 145.9,358.9 146.3,359.5 146.9,360.3 147.4,361.3 148.0,362.0 148.7,362.8 149.5,363.4 150.4,363.6 151.1,363.8 151.9,363.9 152.8,363.9 153.7,363.9 154.5,364.1 155.2,364.1 156.1,363.8 156.9,363.7 157.7,363.7 158.5,363.6 159.3,363.6 160.2,363.4 161.0,362.9 161.7,362.7 162.6,362.5 163.4,362.3 164.2,362.2 164.9,362.0 165.8,361.7 166.6,361.2 167.3,360.6 168.2,359.6 169.0,358.9 169.8,359.4 170.6,360.1 171.3,359.9 172.2,359.6 172.9,359.8 173.8,360.1 174.6,360.4 175.4,360.7 176.2,361.1 177.0,361.3 177.8,360.9 178.6,360.3 179.4,359.5 180.2,358.9 181.1,358.5 181.8,358.2 182.7,358.3 183.5,359.0 184.1,359.5 184.7,360.2 185.3,360.8 185.9,361.4 186.6,362.1 187.4,362.5 188.3,363.0 189.0,363.4 189.8,363.6 190.6,363.4 191.5,363.6 192.3,363.9 193.1,364.1 193.9,364.2 194.7,364.7 195.5,364.8 196.3,364.6 197.2,364.4 198.2,363.9 199.1,363.5 200.0,363.4 200.8,363.2 201.8,363.2 202.6,363.6 203.5,364.0 204.4,364.2 205.3,364.2 206.3,364.3 207.2,364.4 208.1,364.4 209.0,364.4 210.0,364.4 210.9,364.1 211.8,364.0 212.8,364.1 213.7,363.9 214.6,364.1 215.6,364.0 216.4,363.5 217.3,363.4 218.2,363.3 219.1,363.5 220.1,363.7 220.9,363.9 221.8,364.1 222.8,364.3 223.7,364.6 224.6,364.5 225.6,364.1 226.5,363.8 227.4,363.4 228.2,363.1 228.9,362.7 229.5,362.1 230.2,361.6 230.7,361.0 231.3,360.6 231.8,359.9 232.4,359.2 232.9,358.4 233.5,357.7 234.0,356.9 234.6,356.1 235.1,355.4 235.7,354.6 236.3,353.9 236.8,353.1 237.4,352.4 237.9,351.8 238.5,351.3 239.4,350.6 240.3,350.2 241.2,349.9 242.1,350.3 243.1,350.6 244.0,350.9 244.8,351.5 245.5,352.2 246.2,353.1 246.7,353.7 247.1,354.4 247.6,355.1 248.1,355.9 248.6,356.6 249.3,357.4 249.9,358.0 250.6,358.7 251.3,359.2 252.3,360.1 253.2,360.5 254.1,360.4 255.0,360.7 256.0,361.0 257.0,361.1 258.1,361.2 259.2,361.1 260.0,360.8 260.8,360.5 261.6,360.4 262.4,359.9 263.0,359.4 263.5,358.8 264.0,358.2 264.4,357.4 264.9,356.5 265.1,355.9 265.4,355.2 265.6,354.5 265.8,353.7 266.0,352.9 266.2,352.0 266.4,351.0 266.6,350.0 266.8,348.9 266.9,348.2 267.0,347.5 267.1,346.7 267.2,345.9 267.3,345.0 267.4,344.2 267.4,343.3 267.5,342.4 267.6,341.5 267.7,340.6 267.8,339.7 267.8,338.8 267.9,337.9 268.0,337.1 268.1,336.2 268.2,335.4 268.3,334.5 268.4,333.7 268.4,332.8 268.5,332.0 268.6,331.1 268.7,330.3 268.8,329.4 268.9,328.6 269.0,327.7 269.1,326.9 269.1,326.0 269.2,325.2 269.3,324.3 269.4,323.5 269.5,322.7 269.6,321.9 269.6,321.0 269.7,320.2 269.8,319.3 269.8,318.4 269.9,317.6 270.0,316.7 270.1,315.9 270.1,315.1 270.2,314.3 270.3,313.5 270.4,312.7 270.4,312.0 270.5,311.3 270.6,310.7 270.8,309.5 271.0,308.3 271.2,307.2 271.4,306.1 271.6,305.3 271.8,304.6 272.0,304.1 272.2,303.9 272.4,304.1 272.6,304.6 272.8,305.3 273.0,306.1 273.2,307.2 273.4,308.3 273.6,309.5 273.8,310.7 273.9,311.3 274.0,312.0 274.1,312.7 274.1,313.5 274.2,314.3 274.3,315.1 274.4,315.9 274.5,316.7 274.5,317.6 274.6,318.4 274.7,319.3 274.8,320.2 274.9,321.0 274.9,321.9 275.0,322.7 275.1,323.5 275.2,324.3 275.3,325.2 275.4,326.0 275.4,326.9 275.5,327.7 275.6,328.6 275.7,329.4 275.8,330.3 275.9,331.1 276.0,332.0 276.0,332.8 276.1,333.7 276.2,334.5 276.3,335.4 276.4,336.2 276.5,337.1 276.6,337.9 276.7,338.8 276.8,339.7 276.9,340.6 277.0,341.5 277.1,342.4 277.2,343.3 277.3,344.2 277.4,345.0 277.5,345.9 277.6,346.7 277.7,347.5 277.8,348.2 277.9,348.9 278.1,350.0 278.2,351.0 278.4,351.9 278.5,352.8 278.7,353.6 278.9,354.4 279.1,355.1 279.3,355.8 279.5,356.5 279.9,357.5 280.3,358.3 280.7,359.1 281.2,359.8 281.6,360.4 282.1,360.9 282.8,361.6 283.5,362.0 284.3,362.4 285.3,362.8 286.0,363.1 286.9,363.4 287.8,363.9 288.7,364.2 289.6,364.2 290.4,364.4 291.0,364.6 292.4,365.1 293.1,365.0 293.9,364.9 294.8,365.1 295.7,365.0 296.8,364.8 297.9,364.9 298.9,365.0 299.8,364.6 300.5,363.9 301.3,363.7 302.1,364.0 302.8,364.9 303.7,365.4 304.4,365.7 305.1,365.7 306.0,365.8 306.9,365.9 307.6,366.0 308.4,366.1 309.1,366.1 310.0,366.1 310.9,366.0 311.8,366.1 312.5,365.9 313.3,366.0 314.0,366.0 314.8,366.1 315.6,366.2 316.4,366.5 317.3,366.6 318.2,366.6 318.9,366.6 319.7,366.6 320.5,366.7 321.3,366.7 322.1,366.4 323.0,366.5 323.8,366.6 324.7,366.6 325.5,366.7 326.3,366.7 327.1,366.7 327.9,366.7 328.7,366.8 329.6,366.8 330.4,366.7 331.2,366.7 332.0,366.7 332.8,366.8 333.6,366.8 334.3,366.8 335.2,366.8 336.2,366.6 337.2,366.7 338.2,367.0 339.0,367.0 339.8,367.1 340.5,367.1 341.0,367.1" fill="none" stroke="#00f000" stroke-width="2.3" stroke-linejoin="round" stroke-linecap="round"/>
<polyline points="38.0,425.5 38.7,424.6 39.6,423.8 40.6,423.3 41.7,422.8 42.6,422.4 43.5,422.0 44.3,421.8 45.3,421.9 46.3,422.4 47.1,423.0 48.0,423.5 48.9,423.5 49.8,423.4 50.8,423.3 51.8,423.0 52.5,422.9 53.3,422.6 54.0,422.2 54.7,421.7 55.5,421.0 56.1,420.3 56.8,419.5 57.2,418.9 57.6,418.2 58.0,417.4 58.4,416.6 58.7,415.8 59.0,415.0 59.3,414.1 59.6,413.1 59.8,412.3 60.1,411.5 60.6,410.3 61.1,409.3 61.6,408.8 62.3,408.8 63.0,410.1 63.2,410.7 63.4,411.5 63.6,412.4 63.8,413.3 64.0,414.2 64.2,415.1 64.4,415.8 64.8,416.8 65.2,417.5 65.7,418.2 66.2,418.7 67.1,419.3 68.0,419.5 69.0,419.9 70.0,420.4 71.0,420.8 71.9,421.2 72.6,421.6 73.3,422.0 74.1,422.5 74.9,422.5 75.8,422.4 76.7,422.2 77.7,421.8 78.6,421.8 79.5,422.0 80.4,422.0 81.3,421.6 82.0,421.6 83.0,421.9 84.0,422.1 84.7,421.9 85.5,422.0 86.4,422.0 87.2,422.0 88.1,422.5 88.9,422.5 89.8,422.1 90.6,422.0 91.5,421.9 92.3,421.9 93.1,422.2 93.9,422.1 94.8,422.0 95.6,421.9 96.4,421.6 97.2,421.5 98.0,421.8 98.9,421.7 99.7,421.4 100.5,421.3 101.4,421.3 102.2,421.1 103.1,420.8 103.9,420.6 104.7,420.7 105.6,420.3 106.4,419.7 107.1,419.3 107.8,419.0 109.0,419.1 110.0,419.0 110.4,418.1 110.9,417.3 111.6,417.0 112.4,416.8 113.3,416.3 114.0,416.2 114.9,416.7 115.5,417.1 116.2,416.6 116.9,415.3 117.1,414.7 117.2,413.9 117.4,413.0 117.5,412.1 117.6,411.2 117.8,410.4 118.0,409.6 118.2,409.0 118.4,408.3 118.6,407.6 118.8,406.7 119.0,405.6 119.1,405.0 119.2,404.3 119.3,403.6 119.4,402.8 119.5,402.1 119.6,401.3 119.7,400.4 119.8,399.6 119.9,398.7 120.0,397.8 120.1,396.9 120.2,396.0 120.3,395.3 120.3,394.5 120.4,393.8 120.4,393.0 120.5,392.2 120.5,391.4 120.6,390.6 120.6,389.7 120.7,388.9 120.7,388.1 120.8,387.3 120.8,386.4 120.9,385.6 120.9,384.8 121.0,384.0 121.1,383.2 121.1,382.4 121.2,381.5 121.2,380.6 121.3,379.8 121.4,378.9 121.4,378.1 121.5,377.2 121.6,376.4 121.6,375.6 121.7,374.8 121.8,374.0 121.8,373.3 121.9,372.6 122.0,372.0 122.2,370.7 122.4,369.4 122.6,368.3 122.8,367.3 123.1,366.5 123.3,366.0 123.5,365.7 123.7,365.9 123.9,366.5 124.2,367.3 124.4,368.3 124.6,369.4 124.8,370.7 125.0,372.0 125.1,372.6 125.2,373.3 125.3,374.0 125.3,374.8 125.4,375.6 125.5,376.4 125.6,377.2 125.7,378.1 125.7,378.9 125.8,379.8 125.9,380.6 126.0,381.5 126.0,382.4 126.1,383.2 126.2,384.0 126.3,384.8 126.4,385.6 126.4,386.4 126.5,387.3 126.6,388.1 126.7,388.9 126.8,389.7 126.9,390.6 127.0,391.4 127.0,392.2 127.1,393.0 127.2,393.8 127.3,394.5 127.3,395.3 127.4,396.0 127.5,396.9 127.5,397.8 127.6,398.7 127.6,399.6 127.7,400.4 127.7,401.2 127.7,402.1 127.8,402.8 127.8,403.6 127.9,404.3 127.9,405.0 128.0,405.6 128.2,406.7 128.3,407.7 128.5,408.5 128.7,409.2 129.0,409.8 129.2,410.4 129.7,411.2 130.3,411.7 131.0,412.1 131.8,412.5 132.6,412.8 133.4,413.0 134.0,412.5 134.6,411.8 135.2,410.9 135.8,410.4 136.8,409.8 137.6,409.7 138.0,410.3 138.4,411.2 138.8,412.2 139.2,412.9 139.6,413.7 140.1,414.5 140.6,415.2 141.4,416.0 142.2,416.6 143.0,416.8 144.1,416.9 145.0,417.2 145.9,416.6 146.3,417.0 146.8,417.5 147.4,418.2 148.0,418.9 148.7,419.6 149.5,420.0 150.3,420.5 151.2,420.8 152.0,420.5 152.8,420.6 153.7,420.9 154.5,421.0 155.3,420.8 156.2,421.0 157.0,421.4 157.7,421.7 158.5,421.7 159.3,421.3 160.1,421.0 160.9,420.7 161.7,420.4 162.5,420.3 163.3,420.3 164.2,420.2 164.9,420.0 165.6,419.7 166.2,418.9 166.8,418.2 167.3,417.6 168.2,418.1 169.0,419.1 169.7,419.3 170.6,419.3 171.4,419.5 172.2,419.7 173.0,420.0 173.8,420.3 174.6,420.6 175.3,421.0 176.2,421.1 176.9,421.3 177.8,421.4 178.6,421.5 179.4,421.6 180.2,421.8 181.0,422.0 181.8,422.1 182.6,422.3 183.4,422.4 184.2,422.0 185.1,422.0 185.9,422.3 186.7,422.4 187.5,422.7 188.3,422.8 189.1,422.9 189.9,423.0 190.7,422.8 191.5,422.7 192.3,422.3 193.1,422.3 193.9,422.9 194.7,423.0 195.5,423.0 196.3,422.6 197.1,422.4 198.0,422.4 198.8,422.3 199.8,422.2 200.7,422.1 201.7,422.2 202.6,422.3 203.6,422.3 204.5,422.6 205.4,423.1 206.3,423.2 207.2,423.0 208.1,423.0 209.0,422.8 209.9,422.7 210.8,422.6 211.8,422.5 212.7,422.3 213.6,422.2 214.5,422.0 215.5,421.9 216.4,421.8 217.3,421.9 218.3,422.3 219.2,422.4 220.1,422.7 221.0,422.9 221.9,422.7 222.8,422.9 223.7,423.0 224.6,423.0 225.5,423.5 226.5,423.5 227.4,423.2 228.3,423.2 229.2,423.1 230.2,423.0 231.1,422.8 232.0,422.5 232.9,422.3 233.9,421.9 234.8,421.5 235.6,421.1 236.3,420.7 237.1,420.1 237.8,419.7 238.5,419.6 239.2,419.8 239.8,420.3 240.5,420.9 241.2,421.2 242.1,421.6 243.0,422.2 244.0,422.5 244.9,422.3 245.8,422.4 246.8,422.6 247.7,422.6 248.6,422.7 249.5,422.6 250.5,422.1 251.4,422.0 252.3,422.1 253.3,421.8 254.1,421.6 255.0,421.2 255.9,420.7 256.7,420.4 257.8,419.7 258.3,419.3 258.8,418.7 259.4,418.0 260.1,417.3 260.7,416.7 261.2,416.1 261.8,415.4 262.2,414.7 262.6,414.0 262.9,413.3 263.1,412.6 263.3,411.9 263.5,411.1 263.7,410.3 263.9,409.4 264.1,408.4 264.2,407.7 264.4,407.0 264.5,406.2 264.7,405.4 264.8,404.6 264.9,403.7 265.1,402.8 265.2,401.9 265.3,401.0 265.5,400.1 265.6,399.1 265.7,398.2 265.8,397.4 265.9,396.6 266.0,395.8 266.1,395.0 266.1,394.2 266.2,393.3 266.3,392.4 266.4,391.6 266.5,390.7 266.6,389.8 266.6,389.0 266.7,388.1 266.8,387.2 266.9,386.4 267.0,385.5 267.1,384.7 267.2,383.9 267.3,383.0 267.4,382.2 267.5,381.3 267.6,380.5 267.7,379.6 267.8,378.8 267.8,378.0 267.9,377.1 268.0,376.3 268.1,375.5 268.2,374.8 268.3,374.1 268.4,373.4 268.5,372.7 268.6,371.5 268.8,370.4 268.9,369.2 269.1,368.1 269.2,367.1 269.3,366.2 269.5,365.6 269.6,365.2 269.8,365.2 270.0,365.3 270.2,365.6 270.4,366.2 270.6,367.1 270.9,368.1 271.1,369.2 271.3,370.4 271.5,371.5 271.7,372.7 271.8,373.4 271.9,374.1 272.0,374.8 272.1,375.5 272.2,376.3 272.2,377.1 272.3,378.0 272.4,378.8 272.5,379.6 272.5,380.5 272.6,381.3 272.7,382.2 272.8,383.0 272.8,383.9 272.9,384.7 273.0,385.5 273.1,386.4 273.2,387.2 273.3,388.1 273.3,389.0 273.4,389.8 273.5,390.7 273.6,391.6 273.7,392.4 273.8,393.3 273.9,394.2 274.0,395.0 274.0,395.8 274.1,396.6 274.2,397.4 274.3,398.2 274.4,399.1 274.5,400.1 274.6,401.0 274.7,401.9 274.8,402.8 274.9,403.7 274.9,404.6 275.0,405.4 275.1,406.2 275.3,407.0 275.4,407.7 275.5,408.4 275.7,409.4 275.9,410.3 276.2,411.1 276.4,411.9 276.7,412.6 276.9,413.3 277.2,414.0 277.5,414.7 277.9,415.6 278.3,416.4 278.7,417.2 279.1,418.0 279.5,418.6 280.0,419.2 280.7,419.9 281.5,420.3 282.3,420.6 283.2,421.1 283.9,421.4 284.8,421.7 285.6,421.8 286.3,422.1 287.0,422.2 288.1,422.5 289.2,422.4 289.9,422.6 290.7,422.5 291.6,422.3 292.4,422.2 293.2,422.0 294.1,422.1 294.9,422.0 295.7,422.0 296.5,421.7 297.4,421.5 298.2,421.1 298.9,421.1 299.7,421.6 300.4,422.4 301.3,422.9 302.0,423.1 302.7,423.5 303.4,423.6 304.3,423.7 305.3,423.8 306.0,423.6 306.8,423.6 307.6,423.6 308.4,423.8 309.3,423.8 310.1,423.8 311.0,423.7 311.8,423.7 312.7,423.7 313.6,423.7 314.5,423.7 315.3,423.7 316.3,423.7 317.2,423.5 318.2,423.5 318.9,423.7 319.7,423.8 320.5,423.8 321.3,423.7 322.1,423.7 323.0,423.9 323.8,423.9 324.7,424.1 325.5,424.2 326.3,424.2 327.1,424.2 327.9,424.1 328.7,424.2 329.6,424.5 330.4,424.6 331.2,424.5 332.0,424.6 332.8,424.6 333.6,424.6 334.3,424.6 335.2,424.4 336.2,424.4 337.2,424.7 338.2,424.7 339.0,424.5 339.8,424.5 340.5,424.5 341.0,424.7" fill="none" stroke="#ff0000" stroke-width="2.3" stroke-linejoin="round" stroke-linecap="round"/>
<polyline points="39.3,485.1 40.0,485.1 40.9,485.0 41.9,485.0 42.9,485.0 43.8,484.8 44.6,484.9 45.4,484.9 46.3,485.0 47.2,484.9 48.0,485.0 48.9,485.4 49.8,485.4 50.7,485.3 51.6,485.2 52.4,485.3 53.2,485.1 54.1,484.6 54.9,484.3 55.6,483.9 56.2,483.4 56.8,482.7 57.5,482.0 58.3,481.0 59.0,480.2 59.6,479.5 60.2,479.0 60.7,478.5 61.9,478.5 62.5,479.2 63.3,480.2 64.0,480.8 64.7,481.5 65.5,482.2 66.4,482.7 67.3,483.2 68.3,483.7 69.1,484.0 70.0,484.1 70.9,484.3 71.9,484.7 72.7,484.8 73.6,485.1 74.4,485.1 75.3,484.9 76.2,485.0 77.1,485.3 78.0,485.4 78.8,485.5 79.7,485.5 80.5,485.7 81.4,485.7 82.3,485.5 83.1,485.5 84.0,485.4 84.8,485.5 85.6,485.5 86.4,486.0 87.3,486.0 88.1,486.1 88.9,486.0 89.8,485.8 90.6,485.8 91.5,485.6 92.3,485.5 93.1,485.5 93.9,485.4 94.8,485.5 95.6,485.5 96.4,485.2 97.2,485.1 98.0,485.3 98.9,485.2 99.7,484.9 100.5,484.7 101.4,484.4 102.2,484.3 103.1,484.4 103.9,484.2 104.7,483.9 105.6,483.7 106.4,483.6 107.1,483.3 107.8,483.1 109.0,482.8 110.0,482.5 110.9,481.4 111.5,481.0 112.4,480.4 113.2,479.9 114.0,479.4 114.8,478.7 115.5,478.0 116.1,477.2 116.5,476.5 117.0,475.6 117.3,474.7 117.6,474.1 118.0,473.7 118.1,473.1 118.3,472.4 118.5,471.6 118.7,470.7 118.8,469.8 119.0,468.8 119.2,467.9 119.3,467.1 119.5,466.3 119.6,465.4 119.8,464.6 119.9,463.7 120.0,462.8 120.2,461.9 120.3,461.0 120.4,460.2 120.5,459.4 120.6,458.6 120.7,457.8 120.8,457.0 120.9,456.2 121.0,455.3 121.1,454.5 121.2,453.8 121.3,453.0 121.4,452.0 121.5,450.9 121.7,449.8 121.8,448.7 121.9,447.8 122.0,447.0 122.2,446.5 122.3,446.2 122.5,446.5 122.6,447.0 122.8,447.8 123.0,448.7 123.1,449.8 123.3,450.9 123.5,452.0 123.6,453.0 123.7,453.7 123.8,454.5 123.9,455.3 124.0,456.1 124.0,456.9 124.1,457.7 124.2,458.6 124.2,459.4 124.3,460.2 124.4,461.0 124.5,461.8 124.6,462.6 124.6,463.5 124.7,464.3 124.8,465.1 124.9,466.0 125.0,466.8 125.0,467.5 125.1,468.3 125.2,469.0 125.3,470.0 125.4,470.9 125.5,471.8 125.7,472.7 125.8,473.5 125.9,474.2 126.1,474.8 126.6,475.8 127.2,476.5 127.8,477.1 128.5,477.7 129.4,478.3 130.1,478.7 131.0,479.6 131.8,480.4 132.7,479.9 133.6,478.8 134.4,478.1 135.2,477.4 135.9,476.9 136.5,477.3 137.1,478.0 137.6,478.8 138.2,479.5 138.7,480.2 139.3,480.7 140.1,481.4 141.0,481.6 141.9,481.0 142.8,480.3 143.7,479.9 144.5,479.8 145.0,480.3 145.6,480.9 146.2,481.6 146.8,482.2 147.4,482.8 148.0,483.6 148.5,484.1 149.4,484.6 150.0,484.7 150.6,484.6 151.3,484.7 152.3,484.6 153.2,484.8 154.3,485.5 155.3,485.7 156.4,485.2 157.5,485.0 158.6,485.4 159.6,485.5 160.3,485.5 161.1,485.0 161.8,484.7 162.8,484.7 163.9,484.9 164.6,484.5 165.4,484.0 166.1,483.6 166.8,483.2 167.6,482.7 168.3,482.5 169.0,482.9 169.7,483.5 170.4,483.9 171.5,483.5 172.6,483.3 173.3,484.0 174.0,484.6 174.7,485.0 175.8,484.8 176.9,484.8 177.7,485.0 178.5,484.9 179.4,485.0 180.2,485.0 181.0,484.9 181.8,484.6 182.6,484.6 183.4,484.8 184.2,484.8 185.0,484.8 185.8,484.5 186.6,484.6 187.4,484.8 188.2,485.3 189.0,485.4 189.8,485.5 190.6,485.6 191.4,485.7 192.3,485.8 193.1,486.0 193.8,486.1 194.7,486.0 195.5,486.1 196.3,486.4 197.1,486.4 197.9,486.4 198.8,486.5 199.5,486.3 200.3,486.2 201.1,486.0 201.9,485.6 202.7,485.3 203.6,485.2 204.4,485.1 205.3,484.9 206.2,485.0 207.1,484.8 208.0,484.9 208.9,485.3 209.8,485.4 210.7,485.4 211.6,485.5 212.5,485.7 213.4,485.7 214.3,485.9 215.1,485.8 216.0,485.5 216.9,485.5 217.8,485.6 218.7,485.7 219.6,486.0 220.5,486.1 221.4,486.4 222.3,486.5 223.2,486.4 224.1,486.4 225.0,486.3 225.8,486.3 226.8,486.3 227.7,486.2 228.5,486.3 229.4,486.2 230.3,485.7 231.2,485.5 232.1,485.3 233.0,485.1 233.9,485.1 234.8,484.9 235.7,484.6 236.5,484.3 237.5,483.7 238.3,483.1 239.2,482.8 240.1,483.0 240.9,483.5 241.9,483.9 242.7,484.0 243.6,484.2 244.5,484.4 245.4,484.5 246.3,484.5 247.2,484.5 248.1,484.6 249.0,484.4 249.9,483.9 250.9,483.6 251.8,483.3 252.6,482.9 253.5,482.4 254.3,481.8 255.2,481.2 255.9,480.8 256.6,480.5 257.4,479.9 258.1,479.5 258.7,479.0 259.2,478.4 259.5,477.7 259.8,477.0 260.1,476.1 260.4,475.2 260.6,474.5 260.8,473.6 261.0,472.8 261.1,471.9 261.3,470.9 261.4,470.0 261.6,469.0 261.7,468.2 261.8,467.5 262.0,466.7 262.1,465.9 262.2,465.1 262.3,464.3 262.5,463.4 262.6,462.4 262.7,461.4 262.8,460.7 262.9,460.0 263.0,459.2 263.0,458.4 263.1,457.6 263.2,456.8 263.3,455.9 263.4,455.1 263.5,454.2 263.6,453.4 263.6,452.5 263.7,451.7 263.8,450.8 263.9,450.0 264.0,449.2 264.1,448.3 264.1,447.5 264.2,446.6 264.3,445.8 264.4,444.9 264.5,444.0 264.5,443.2 264.6,442.4 264.7,441.5 264.8,440.7 264.8,439.9 264.9,439.1 265.0,438.4 265.1,437.5 265.2,436.6 265.3,435.7 265.4,434.8 265.5,433.9 265.6,433.1 265.7,432.3 265.8,431.5 265.9,430.8 266.0,430.1 266.1,429.5 266.4,428.2 266.7,427.1 266.9,426.1 267.2,425.4 267.5,425.1 268.1,425.6 268.6,427.0 268.8,427.6 269.0,428.3 269.2,429.1 269.4,430.2 269.6,431.5 269.7,432.1 269.8,432.8 269.9,433.5 270.0,434.2 270.1,435.0 270.3,435.8 270.4,436.7 270.5,437.5 270.6,438.4 270.7,439.3 270.9,440.2 271.0,441.1 271.1,442.0 271.2,442.8 271.3,443.6 271.4,444.5 271.5,445.3 271.6,446.2 271.7,447.1 271.8,448.0 271.9,448.9 272.0,449.8 272.1,450.7 272.2,451.5 272.3,452.4 272.4,453.1 272.5,453.8 272.6,454.5 272.7,455.6 272.9,456.5 273.0,457.4 273.1,458.1 273.2,458.8 273.3,459.5 273.4,460.2 273.5,461.0 273.6,461.8 273.7,462.7 273.8,463.6 273.9,464.5 274.0,465.3 274.1,466.2 274.3,467.1 274.4,468.0 274.5,468.8 274.7,469.6 274.8,470.5 275.0,471.3 275.1,472.2 275.3,473.0 275.5,473.8 275.6,474.5 275.8,475.2 276.1,476.3 276.4,477.3 276.7,478.1 277.1,478.8 277.5,479.6 278.3,480.2 279.1,480.2 280.0,480.5 280.9,481.3 281.7,481.8 282.7,482.0 283.5,482.3 284.3,482.7 285.2,482.8 286.2,483.0 287.0,483.2 287.9,483.0 288.9,483.3 289.8,483.6 290.7,483.8 291.6,484.3 292.4,484.4 293.3,484.4 294.2,484.5 295.1,484.6 295.9,484.7 296.8,484.9 297.7,485.0 298.6,485.1 299.5,485.2 300.5,485.1 301.3,485.2 302.2,485.3 303.1,485.4 304.0,485.3 304.9,485.4 305.8,485.6 306.7,485.6 307.6,485.6 308.5,485.6 309.4,485.8 310.3,485.8 311.2,485.7 312.1,485.7 313.0,485.5 313.9,485.6 314.8,485.8 315.7,485.9 316.5,485.7 317.4,485.8 318.3,485.8 319.2,485.8 320.1,486.1 321.0,486.0 321.9,485.9 322.7,485.8 323.6,486.0 324.5,485.9 325.4,485.8 326.3,485.7 327.2,485.8 328.1,485.8 329.1,485.5 330.0,485.5 330.9,485.9 331.7,485.9 332.7,485.5 333.6,485.5 334.5,485.8 335.4,485.8 336.2,485.9 337.0,485.9 337.9,485.9 338.9,485.9 339.8,485.9 340.5,485.9 341.0,485.9" fill="none" stroke="#000" stroke-width="2.3" stroke-linejoin="round" stroke-linecap="round"/>
<line x1="47.9" y1="177.6" x2="51.5" y2="194.4" stroke="#000" stroke-width="1.6"/>
<polygon points="53.0,201.2 48.26,193.02 53.93,191.79" fill="#000" stroke="#000" stroke-width="0.6" stroke-linejoin="miter"/>
<line x1="49.7" y1="392.4" x2="47.0" y2="408.8" stroke="#000" stroke-width="1.6"/>
<polygon points="45.8,415.7 44.43,406.34 50.15,407.30" fill="#000" stroke="#000" stroke-width="0.6" stroke-linejoin="miter"/>
<text x="43.9" y="58.25" font-family="Liberation Sans" font-size="17.5" fill="#000">A</text>
<text x="68.2" y="68.45" font-family="Liberation Sans" font-size="15.7" fill="#000">1002</text>
<text x="137.1" y="51.8" font-family="Liberation Sans" font-size="15.7" fill="#000">1154</text>
<text x="276.6" y="58.6" font-family="Liberation Sans" font-size="15.7" fill="#000">1513</text>
<text x="87.8" y="90.3" font-family="Liberation Serif" font-size="16" fill="#000">&#957;</text>
<text x="99.4" y="90.3" font-family="Liberation Serif" font-size="16" fill="#000">3</text>
<text x="146.0" y="73.5" font-family="Liberation Serif" font-size="16" fill="#000">&#957;</text>
<text x="157.6" y="73.3" font-family="Liberation Serif" font-size="16" fill="#000">2</text>
<text x="286.0" y="77.5" font-family="Liberation Serif" font-size="16" fill="#000">&#957;</text>
<text x="297.2" y="77.65" font-family="Liberation Serif" font-size="16" fill="#000">1</text>
<text x="317.85" y="88.15" font-family="Liberation Sans" font-size="16" fill="#000">(c)</text>
<text x="69.8" y="138.8" font-family="Liberation Sans" font-size="15.7" fill="#000">1004</text>
<text x="141.1" y="121.45" font-family="Liberation Sans" font-size="15.7" fill="#000">1154</text>
<text x="277.2" y="118.45" font-family="Liberation Sans" font-size="15.7" fill="#000">1511</text>
<text x="318.75" y="146.55" font-family="Liberation Sans" font-size="16" fill="#000">(b)</text>
<text x="38.0" y="178.25" font-family="Liberation Serif" font-size="16" fill="#000">&#957;</text>
<text x="49.05" y="178.0" font-family="Liberation Serif" font-size="16" fill="#000">4</text>
<text x="72.1" y="191.8" font-family="Liberation Sans" font-size="15.7" fill="#000">1005</text>
<text x="138.9" y="178.0" font-family="Liberation Sans" font-size="15.7" fill="#000">1155</text>
<text x="280.8" y="181.05" font-family="Liberation Sans" font-size="15.7" fill="#000">1518</text>
<text x="317.75" y="209.35" font-family="Liberation Sans" font-size="16" fill="#000">(a)</text>
<text x="44.75" y="321.55" font-family="Liberation Sans" font-size="17.5" fill="#000">B</text>
<text x="68.1" y="329.6" font-family="Liberation Sans" font-size="15.7" fill="#000">1006</text>
<text x="133.2" y="321.05" font-family="Liberation Sans" font-size="15.7" fill="#000">1158</text>
<text x="279.45" y="319.65" font-family="Liberation Sans" font-size="15.7" fill="#000">1526</text>
<text x="52.05" y="344.65" font-family="Liberation Serif" font-size="16" fill="#000">&#957;</text>
<text x="63.6" y="345.0" font-family="Liberation Serif" font-size="16" fill="#000">3</text>
<text x="145.25" y="339.8" font-family="Liberation Serif" font-size="16" fill="#000">&#957;</text>
<text x="157.05" y="339.7" font-family="Liberation Serif" font-size="16" fill="#000">2</text>
<text x="281.1" y="341.4" font-family="Liberation Serif" font-size="16" fill="#000">&#957;</text>
<text x="292.5" y="341.75" font-family="Liberation Serif" font-size="16" fill="#000">1</text>
<text x="320.95" y="360.7" font-family="Liberation Sans" font-size="16" fill="#000">(c)</text>
<text x="45.1" y="385.55" font-family="Liberation Serif" font-size="16" fill="#000">&#957;</text>
<text x="56.9" y="385.7" font-family="Liberation Serif" font-size="16" fill="#000">4</text>
<text x="62.7" y="398.65" font-family="Liberation Sans" font-size="15.7" fill="#000">1006</text>
<text x="134.0" y="385.15" font-family="Liberation Sans" font-size="15.7" fill="#000">1159</text>
<text x="278.6" y="389.45" font-family="Liberation Sans" font-size="15.7" fill="#000">1521</text>
<text x="320.9" y="417.75" font-family="Liberation Sans" font-size="16" fill="#000">(b)</text>
<text x="60.1" y="474.65" font-family="Liberation Sans" font-size="15.7" fill="#000">1007</text>
<text x="133.5" y="452.05" font-family="Liberation Sans" font-size="15.7" fill="#000">1156</text>
<text x="277.0" y="450.8" font-family="Liberation Sans" font-size="15.7" fill="#000">1516</text>
<text x="320.15" y="478.75" font-family="Liberation Sans" font-size="16" fill="#000">(a)</text>
<text x="56.15" y="248.15" font-family="Liberation Sans" font-size="17.5" fill="#000">1000</text>
<text x="132.15" y="248.15" font-family="Liberation Sans" font-size="17.5" fill="#000">1200</text>
<text x="208.15" y="248.15" font-family="Liberation Sans" font-size="17.5" fill="#000">1400</text>
<text x="284.15" y="248.15" font-family="Liberation Sans" font-size="17.5" fill="#000">1600</text>
<text x="39.2" y="518.45" font-family="Liberation Sans" font-size="18.6" fill="#000">1000</text>
<text x="120.0" y="518.45" font-family="Liberation Sans" font-size="18.6" fill="#000">1200</text>
<text x="200.8" y="518.45" font-family="Liberation Sans" font-size="18.6" fill="#000">1400</text>
<text x="281.65" y="518.45" font-family="Liberation Sans" font-size="18.6" fill="#000">1600</text>
<text x="109.1" y="540.9" font-family="Liberation Sans" font-size="18.8" fill="#000">Raman</text>
<text x="177.0" y="540.9" font-family="Liberation Sans" font-size="18.8" fill="#000">Shift</text>
<text x="222.55" y="540.9" font-family="Liberation Sans" font-size="18.8" fill="#000">(cm</text>
<text x="253.7" y="531.25" font-family="Liberation Sans" font-size="10.5" fill="#000">-1</text>
<text x="263.65" y="540.85" font-family="Liberation Sans" font-size="18.8" fill="#000">)</text>
<text transform="translate(19.3,308.55) rotate(-90)" font-family="Liberation Sans" font-size="18.8" fill="#000">Raman</text>
<text transform="translate(19.0,241.35) rotate(-90)" font-family="Liberation Sans" font-size="18.8" fill="#000">Gain</text>
<path d="M78.20,348.80L78.20,353.80M76.03,350.05L80.37,352.55M80.37,350.05L76.03,352.55" stroke="#50505a" stroke-width="1.3" stroke-linecap="round"/>
<path d="M93.70,353.60L93.70,358.60M91.53,354.85L95.87,357.35M95.87,354.85L91.53,357.35" stroke="#50505a" stroke-width="1.3" stroke-linecap="round"/>
<path d="M183.00,349.50L183.00,354.50M180.83,350.75L185.17,353.25M185.17,350.75L180.83,353.25" stroke="#50505a" stroke-width="1.3" stroke-linecap="round"/>
<path d="M242.40,340.30L242.40,345.30M240.23,341.55L244.57,344.05M244.57,341.55L240.23,344.05" stroke="#50505a" stroke-width="1.3" stroke-linecap="round"/>
</svg>
</body></html>
